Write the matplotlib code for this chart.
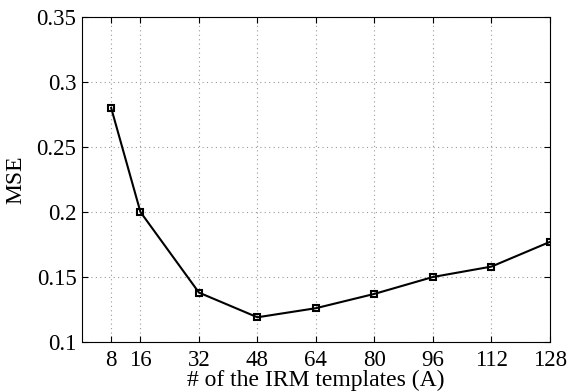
import matplotlib
matplotlib.use("Agg")
import matplotlib.pyplot as plt

# number of templates and resulting error
templates = [8, 16, 32, 48, 64, 80, 96, 112, 128]
mse = [0.280, 0.200, 0.138, 0.119, 0.126, 0.137, 0.150, 0.158, 0.177]
yticks = [0.1, 0.15, 0.2, 0.25, 0.3, 0.35]
ytick_labels = ["0.1", "0.15", "0.2", "0.25", "0.3", "0.35"]

plt.rcParams['font.family'] = ['Liberation Serif', 'DejaVu Serif']

fig = plt.figure(figsize=(5.69, 3.92), dpi=100)
ax = fig.add_axes([0.144, 0.1276, 0.8225, 0.829])

ax.plot(templates, mse, color='black', linewidth=1.5, marker='s', markersize=5,
        markerfacecolor='none', markeredgecolor='black', markeredgewidth=1.5)

ax.set_xlim(0, 128)
ax.set_ylim(0.1, 0.35)
ax.set_xticks(templates)
ax.set_xticklabels([str(t) for t in templates])
ax.set_yticks(yticks)
ax.set_yticklabels(ytick_labels)
ax.tick_params(direction='in', labelsize=16.5, length=4, top=True, right=True)
ax.tick_params(axis='x', pad=6)
ax.tick_params(axis='y', pad=4)
ax.grid(True, linestyle=(0, (1, 3)), color='#999999', linewidth=0.8)

ax.set_xlabel('# of the IRM templates (A)', fontsize=17, labelpad=-1)
ax.set_ylabel('MSE', fontsize=17, labelpad=7)

fig.savefig('out.png', dpi=100)
